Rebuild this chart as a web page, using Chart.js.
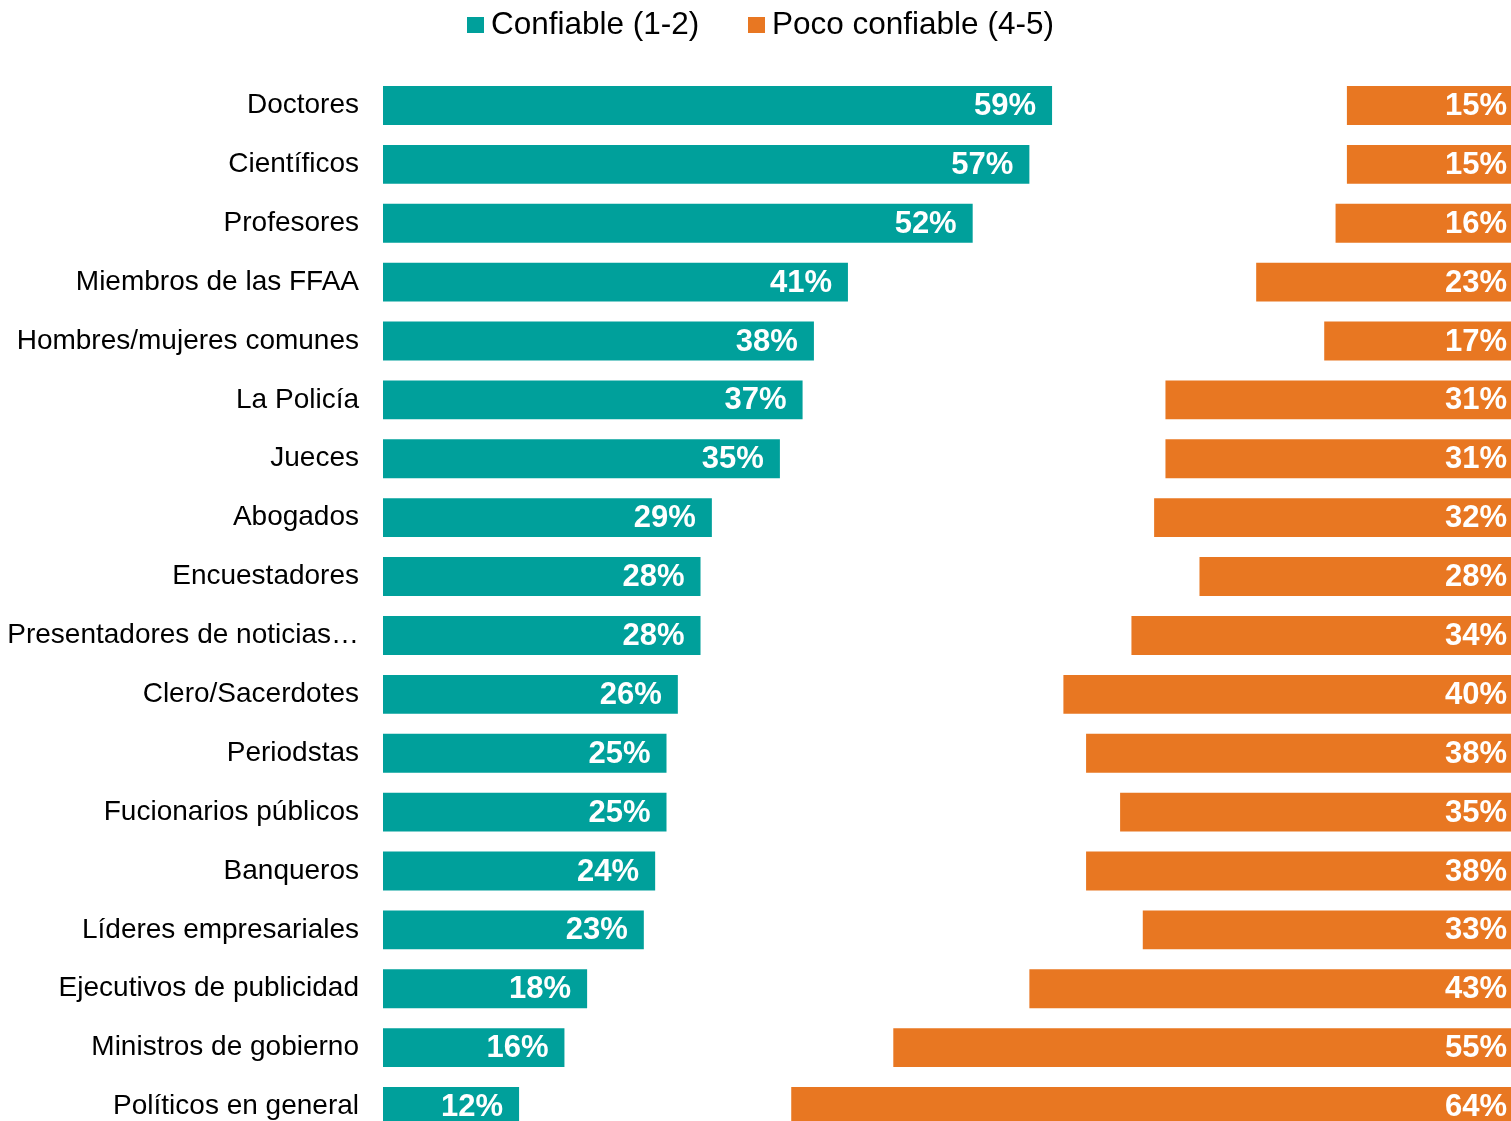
<!DOCTYPE html>
<html>
<head>
<meta charset="utf-8">
<script src="https://cdn.jsdelivr.net/npm/chart.js@4.4.0/dist/chart.umd.min.js"></script>
<style>
html,body{margin:0;padding:0;overflow:hidden;background:#fff;width:1511px;height:1121px;}
#wrap{position:absolute;left:0;top:0;width:1517px;height:1136px;}
.lg{position:absolute;font-family:"Liberation Sans",Arial,sans-serif;font-size:31.5px;line-height:30px;color:#000;white-space:nowrap;}
.bx{position:absolute;width:17px;height:16px;}
</style>
</head>
<body>
<div id="wrap"><canvas id="c" width="1517" height="1136"></canvas></div>
<div id="legend"></div>
<script>
const categories = [
  'Doctores','Científicos','Profesores','Miembros de las FFAA','Hombres/mujeres comunes',
  'La Policía','Jueces','Abogados','Encuestadores','Presentadores de noticias…',
  'Clero/Sacerdotes','Periodstas','Fucionarios públicos','Banqueros','Líderes empresariales',
  'Ejecutivos de publicidad','Ministros de gobierno','Políticos en general'
];
const confiable = [59,57,52,41,38,37,35,29,28,28,26,25,25,24,23,18,16,12];
const pocoConfiable = [15,15,16,23,17,31,31,32,28,34,40,38,35,38,33,43,55,64];
const seriesNames = ['Confiable (1-2)','Poco confiable (4-5)'];
const seriesColors = ['#00A09B','#E87722'];

// legend (HTML)
const legendPos = [{box:467,text:491},{box:748,text:772}];
const lg = document.getElementById('legend');
seriesNames.forEach((n,i)=>{
  const b=document.createElement('div'); b.className='bx';
  b.style.left=legendPos[i].box+'px'; b.style.top='17px'; b.style.background=seriesColors[i];
  const t=document.createElement('div'); t.className='lg';
  t.style.left=legendPos[i].text+'px'; t.style.top='8px'; t.textContent=n;
  lg.appendChild(b); lg.appendChild(t);
});

const FONT = '"Liberation Sans", Arial, sans-serif';

const valueLabels = {
  id:'valueLabels',
  afterDatasetsDraw(chart){
    const ctx=chart.ctx;
    ctx.save();
    ctx.font='bold 31px '+FONT;
    ctx.fillStyle='#fff';
    ctx.textAlign='right';
    ctx.textBaseline='middle';
    chart.data.datasets.forEach((ds,i)=>{
      const meta=chart.getDatasetMeta(i);
      meta.data.forEach((bar,j)=>{
        const v = i===0 ? confiable[j] : pocoConfiable[j];
        const pad = i===0 ? 16 : 10;
        ctx.fillText(v+'%', bar.x - pad, bar.y + 1);
      });
    });
    ctx.restore();
  }
};

new Chart(document.getElementById('c'), {
  type:'bar',
  data:{
    labels:categories,
    datasets:[
      {label:seriesNames[0], data:confiable, backgroundColor:seriesColors[0], grouped:false,
       barPercentage:0.66, categoryPercentage:1, borderWidth:0},
      {label:seriesNames[1], data:pocoConfiable.map(v=>[100-v,100]), backgroundColor:seriesColors[1], grouped:false,
       barPercentage:0.66, categoryPercentage:1, borderWidth:0}
    ]
  },
  options:{
    indexAxis:'y',
    responsive:false,
    animation:false,
    layout:{padding:{top:76,left:0,right:0,bottom:0}},
    plugins:{legend:{display:false}, tooltip:{enabled:false}},
    scales:{
      x:{min:0,max:100,display:false},
      y:{
        grid:{display:false, drawTicks:false},
        border:{display:false},
        ticks:{color:'#000', font:{size:28, family:FONT}, padding:24, autoSkip:false},
        afterFit(s){ s.width=383; s.paddingTop=0; s.paddingBottom=0; }
      }
    }
  },
  plugins:[valueLabels]
});
</script>
</body>
</html>
